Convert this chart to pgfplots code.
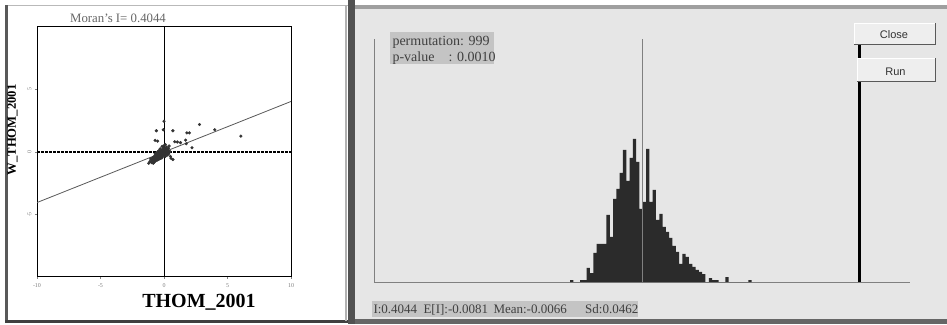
\documentclass[border=0pt]{standalone}
\usepackage{pgfplots}
\pgfplotsset{compat=1.18}
\usepackage{fontspec}
\setmainfont{Liberation Serif}
\newfontfamily\sansf{Liberation Sans}
\definecolor{panel}{HTML}{E6E6E6}
\definecolor{boxg}{HTML}{C4C4C4}
\definecolor{barc}{HTML}{2B2B2B}
\definecolor{btn}{HTML}{EEEEEE}
\begin{document}
\begin{tikzpicture}[x=1pt,y=1pt]
\path[use as bounding box, fill=white] (0,0) rectangle (947,324);
% left panel frame
\fill[white] (5,3) rectangle (348,319);
\draw[gray!55, line width=1.5pt] (5,318.5) -- (348,318.5);
\draw[black!65, line width=3pt] (6.5,2) -- (6.5,319);
\draw[black!75, line width=3pt] (5,2.5) -- (348,2.5);
\draw[gray!60, line width=1.5pt] (346,3) -- (346,319);
% divider
\fill[black!68] (348,0) rectangle (355,324);
% right panel
\fill[panel] (355,5) rectangle (947,316);
\fill[gray!75] (355,315) rectangle (947,319);
\fill[black!60] (355,0) rectangle (947,5.5);

% ---------- Moran scatter plot ----------
\begin{axis}[at={(37pt,47pt)}, anchor=south west, scale only axis,
  width=254pt, height=250pt,
  xmin=-10, xmax=10, ymin=-10, ymax=10,
  xtick={-10,-5,0,5,10}, ytick={-5,0,5},
  tick pos=left, tick align=outside, major tick length=2pt,
  tick style={gray, line width=0.4pt},
  tick label style={font=\fontsize{6}{6}\selectfont, text=gray},
  /pgf/number format/assume math mode=true,
  yticklabel style={rotate=90, anchor=south},
  xticklabel style={yshift=-1pt},
  axis line style={black, line width=1pt},
  clip=true]
\addplot[black, line width=0.8pt] coordinates {(0,-10) (0,10)};
\addplot[black, line width=1.8pt, dash pattern=on 2.5pt off 1.5pt] coordinates {(-10,0) (10,0)};
\addplot[black!65, line width=0.8pt] coordinates {(-10,-4.044) (10,4.044)};
\addplot[only marks, mark=*, mark size=1.4pt, black!80] coordinates {
(-1.1,-0.75) (-1.0,-0.8) (-0.95,-0.6) (-0.9,-0.7) (-0.85,-0.5) (-0.8,-0.65)
(-0.8,-0.4) (-0.75,-0.55) (-0.7,-0.3) (-0.7,-0.6) (-0.65,-0.45) (-0.6,-0.35)
(-0.6,-0.55) (-0.55,-0.2) (-0.55,-0.4) (-0.5,-0.5) (-0.5,-0.3) (-0.45,-0.15)
(-0.45,-0.45) (-0.4,-0.25) (-0.4,-0.35) (-0.35,-0.1) (-0.35,-0.4) (-0.3,-0.2)
(-0.3,-0.3) (-0.25,-0.05) (-0.25,-0.35) (-0.2,-0.15) (-0.2,0.1) (-0.2,-0.25)
(-0.15,0.0) (-0.15,-0.3) (-0.1,0.2) (-0.1,-0.1) (-0.1,-0.2) (-0.05,0.05)
(-0.05,0.35) (-0.05,-0.15) (0.0,0.1) (0.0,-0.05) (0.0,0.5) (0.05,0.25)
(0.05,-0.1) (0.1,0.15) (0.1,-0.2) (0.15,0.05) (0.15,0.3) (0.2,0.1)
(0.2,-0.1) (0.25,0.2) (0.3,0.0) (0.3,0.15) (0.35,-0.15) (-0.3,0.25)
(-0.4,0.1) (-0.6,-0.1) (-0.9,-0.45) (-1.2,-0.9) (-0.75,-0.8) (0.45,0.05)
(0.5,-0.35) (0.55,-0.5) (0.7,-0.6) (0.2,0.4) (-0.15,0.45) (0.1,0.6)
(-1.05,-0.55) (-0.95,-0.85) (-0.85,-0.9) (-0.65,-0.7) (-0.55,-0.65) (-0.45,-0.6)
(-0.35,-0.55) (-0.25,-0.5) (-0.15,-0.45) (0.0,-0.3) (0.1,-0.35) (0.25,-0.25)
(0.35,0.3) (0.4,-0.05) (-0.5,0.0) (-0.7,-0.15) (-0.3,0.05) (0.2,0.25)
(0.0,2.46) (-0.6,1.7) (-0.05,1.78) (0.7,1.7) (2.8,2.2) (4.0,1.78)
(6.05,1.27) (1.8,1.53) (2.0,1.53) (-0.7,0.93) (-0.5,0.87) (0.85,0.82)
(1.05,0.8) (1.3,0.75) (1.7,0.95) (1.75,0.66) (2.2,0.34) (0.4,0.48)
};
\end{axis}
\node[font=\fontsize{12.8}{13}\selectfont, text=black!60] at (118,306) {Moran's I= 0.4044};
\node[font=\bfseries\fontsize{20}{20}\selectfont] at (199,21.5) {THOM\_2001};
\node[rotate=90, font=\bfseries\fontsize{12.7}{13}\selectfont] at (12.5,194) {W\_THOM\_2001};

% ---------- permutation histogram ----------
\begin{axis}[at={(374pt,42pt)}, anchor=south west, scale only axis,
  width=536pt, height=243pt,
  xmin=-64.45, xmax=97.97, ymin=0, ymax=243,
  axis lines=left, axis line style={gray, -, line width=1pt},
  ticks=none, clip=false]
\addplot[const plot mark left, fill=barc, draw=none] coordinates {
(-5,2) (-4,0) (-3,0) (-2,2) (-1,2) (0,14) (1,9) (2,29) (3,38) (4,38) (5,38)
(6,67) (7,45) (8,83) (9,93) (10,109) (11,132) (12,101) (13,124) (14,143)
(15,120) (16,73) (17,80) (18,133) (19,80) (20,92) (21,62) (22,68) (23,55)
(24,50) (25,44) (26,36) (27,30) (28,18) (29,28) (30,25) (31,18) (32,15)
(33,12) (34,10) (35,8) (36,0) (37,4) (38,2) (39,2) (40,0) (41,0) (42,5)
(43,0) (44,0) (45,0) (46,0) (47,0) (48,0) (49,2) (50,0)
} \closedcycle;
\addplot[gray, line width=1.3pt] coordinates {(16.85,0) (16.85,243)};
\addplot[black, line width=3pt] coordinates {(82.52,0) (82.52,243)};
\end{axis}

% info boxes
\fill[boxg] (390,260) rectangle (494.3,292.3);
\node[anchor=base west, inner sep=0, font=\fontsize{14}{14}\selectfont, text=black!75] at (392.3,278) {permutation: 999};
\node[anchor=base west, inner sep=0, font=\fontsize{14}{14}\selectfont, text=black!75] at (392.3,262.3) {p-value};
\node[anchor=base west, inner sep=0, font=\fontsize{14}{14}\selectfont, text=black!75] at (448.3,262.3) {: 0.0010};
\fill[boxg] (372.3,7.3) rectangle (637.7,23.3);
\begin{scope}[every node/.style={anchor=base west, inner sep=0, font=\fontsize{13}{14}\selectfont, text=black!75}]
\node at (373.3,10.7) {I:0.4044};
\node at (423.3,10.7) {E[I]:-0.0081};
\node at (493.3,10.7) {Mean:-0.0066};
\node at (585,10.7) {Sd:0.0462};
\end{scope}

% buttons
\fill[btn] (854,279) rectangle (936,301);
\draw[white, line width=1pt] (854.5,279) -- (854.5,300.5) -- (936,300.5);
\draw[gray!70!black, line width=1pt] (854,279.5) -- (935.5,279.5) -- (935.5,301);
\node[font=\sansf\fontsize{11}{11}\selectfont, text=black!80] at (894,289.7) {Close};
\fill[btn] (857,242) rectangle (936,266);
\draw[white, line width=1pt] (857.5,242) -- (857.5,265.5) -- (936,265.5);
\draw[gray!70!black, line width=1pt] (857,242.5) -- (935.5,242.5) -- (935.5,266);
\node[font=\sansf\fontsize{11}{11}\selectfont, text=black!80] at (895.5,252.3) {Run};
\end{tikzpicture}
\end{document}
